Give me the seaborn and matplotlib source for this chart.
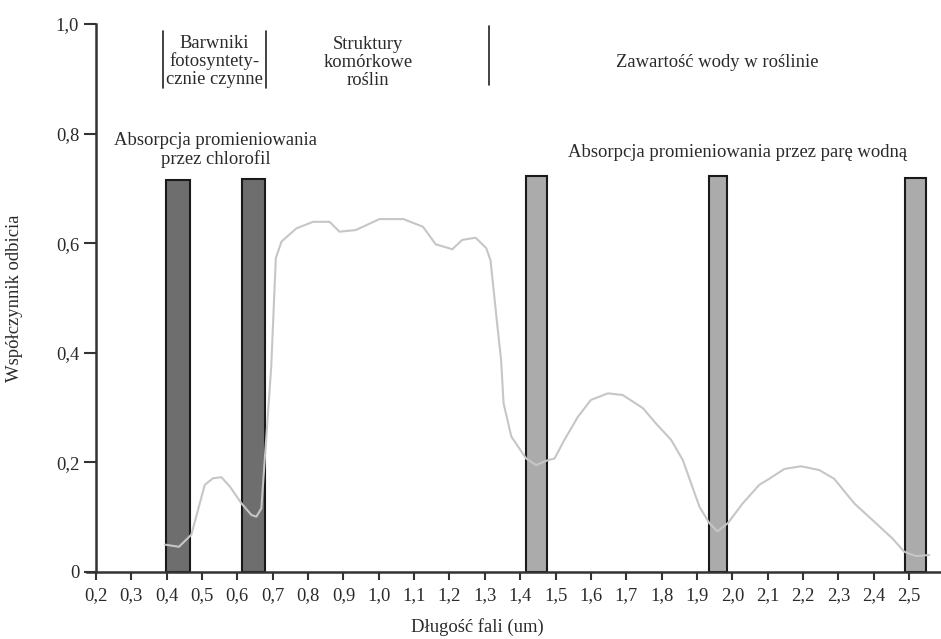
import numpy as np
import pandas as pd
import matplotlib
matplotlib.use("Agg")
import matplotlib.pyplot as plt
import seaborn as sns

# reflectance curve of green vegetation
wavelength = [0.395, 0.435, 0.47, 0.508, 0.531, 0.555, 0.579, 0.612, 0.64, 0.654, 0.668,
              0.696, 0.709, 0.725, 0.767, 0.814, 0.861, 0.889, 0.935, 1.002, 1.07, 1.125,
              1.161, 1.208, 1.236, 1.274, 1.304, 1.316, 1.337, 1.346, 1.353, 1.375, 1.417,
              1.445, 1.478, 1.497, 1.525, 1.563, 1.6, 1.648, 1.69, 1.747, 1.784, 1.827,
              1.86, 1.907, 1.935, 1.958, 1.987, 2.029, 2.076, 2.104, 2.147, 2.194, 2.246,
              2.288, 2.345, 2.401, 2.453, 2.486, 2.519, 2.557]
reflectance = [0.05, 0.046, 0.068, 0.159, 0.171, 0.173, 0.156, 0.125, 0.104, 0.101, 0.116,
               0.375, 0.573, 0.603, 0.627, 0.639, 0.639, 0.621, 0.624, 0.644, 0.644, 0.630,
               0.598, 0.589, 0.606, 0.610, 0.591, 0.569, 0.44, 0.387, 0.308, 0.247, 0.207,
               0.195, 0.204, 0.207, 0.241, 0.283, 0.314, 0.326, 0.323, 0.299, 0.271, 0.241,
               0.204, 0.119, 0.089, 0.074, 0.089, 0.125, 0.159, 0.170, 0.188, 0.193, 0.186,
               0.170, 0.125, 0.092, 0.061, 0.037, 0.029, 0.031]

# absorption bands: chlorophyll (dark) and water vapour (light)
chl_start = [0.398, 0.614]
chl_width = [0.068, 0.063]
chl_height = [0.716, 0.718]
water_start = [1.417, 1.933, 2.489]
water_width = [0.059, 0.052, 0.058]
water_height = [0.723, 0.722, 0.719]

# region separators at the top
sep_x = [0.39, 0.682, 1.313]
sep_y0 = [0.883, 0.883, 0.889]
sep_y1 = [0.987, 0.987, 0.996]

xticks = np.round(np.arange(0.2, 2.51, 0.1), 1)
xtick_labels = [f"{v:.1f}".replace(".", ",") for v in xticks]
yticks = [0, 0.2, 0.4, 0.6, 0.8, 1.0]
ytick_labels = ["0", "0,2", "0,4", "0,6", "0,8", "1,0"]

df = pd.DataFrame({"wl": wavelength, "r": reflectance})

sns.set_style("ticks")
plt.rcParams["font.family"] = ["Liberation Serif", "DejaVu Serif"]

fig = plt.figure(figsize=(9.41, 6.39), dpi=100)
ax = fig.add_axes([87 / 941, 1 - 572 / 639, 1 - 87 / 941, (572 - 24) / 639])

ax.bar(chl_start, chl_height, width=chl_width, align="edge", color="#6e6e6e",
       edgecolor="#1a1a1a", linewidth=1.5, zorder=2)
ax.bar(water_start, water_height, width=water_width, align="edge", color="#ababab",
       edgecolor="#1a1a1a", linewidth=1.5, zorder=2)
sns.lineplot(data=df, x="wl", y="r", sort=False, color="#c6c6c6", linewidth=1.5,
             ax=ax, zorder=3)

for x, a, b in zip(sep_x, sep_y0, sep_y1):
    ax.plot([x, x], [a, b], color="#222222", linewidth=1.2, clip_on=False)

fs = 13.4
tc = "#2a2a2a"
ax.text(0.536, 0.932, "Barwniki\nfotosyntety-\ncznie czynne", ha="center", va="center",
        fontsize=fs, color=tc, linespacing=1.05)
ax.text(0.97, 0.93, "Struktury\nkomórkowe\nroślin", ha="center", va="center",
        fontsize=fs, color=tc, linespacing=1.05)
ax.text(1.957, 0.93, "Zawartość wody w roślinie", ha="center", va="center",
        fontsize=fs, color=tc)
ax.text(0.539, 0.77, "Absorpcja promieniowania\nprzez chlorofil", ha="center", va="center",
        fontsize=fs, color=tc, linespacing=1.05)
ax.text(2.014, 0.765, "Absorpcja promieniowania przez parę wodną", ha="center", va="center",
        fontsize=fs, color=tc)

ax.set_xlim(0.175, 2.59)
ax.set_ylim(0, 1.0)
ax.spines["left"].set_position(("data", 0.2))
ax.spines["top"].set_visible(False)
ax.spines["right"].set_visible(False)
for s in ["left", "bottom"]:
    ax.spines[s].set_linewidth(1.8)
    ax.spines[s].set_color("#333333")

ax.set_xticks(xticks)
ax.set_xticklabels(xtick_labels)
ax.set_yticks(yticks)
ax.set_yticklabels(ytick_labels)
ax.tick_params(axis="both", labelsize=fs, colors="#333333", labelcolor=tc, width=1.5)
ax.tick_params(axis="x", length=6, pad=5)
ax.tick_params(axis="y", length=9, pad=3)

ax.set_xlabel("Długość fali (um)", fontsize=fs, color=tc)
ax.xaxis.set_label_coords((477 - 87) / 854, -0.1)
ax.xaxis.label.set_va("center")
ax.set_ylabel("Współczynnik odbicia", fontsize=fs, color=tc)
ax.yaxis.label.set_va("center")
ax.yaxis.set_label_coords((15 - 87) / 854, 0.5)

fig.savefig("out.png", dpi=100)
